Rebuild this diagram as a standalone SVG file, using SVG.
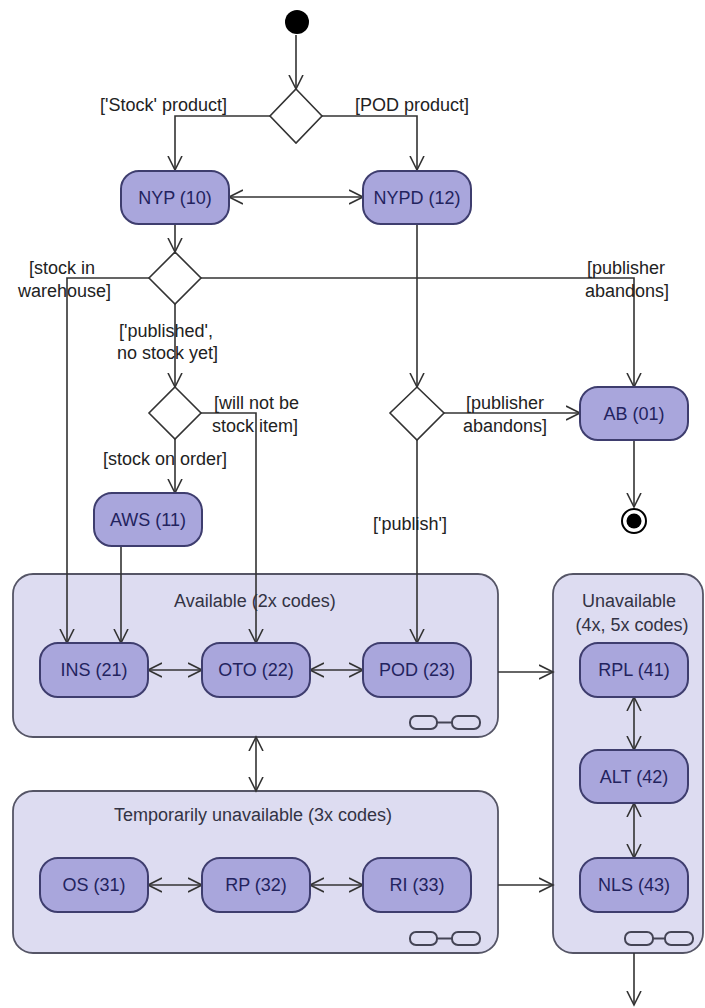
<svg xmlns="http://www.w3.org/2000/svg" width="705" height="1008" viewBox="0 0 705 1008">
<style>
  .node rect { fill:#a9a6dc; stroke:#3e3d6e; stroke-width:2; }
  .node text { font-family:"Liberation Sans", Arial, sans-serif; font-size:18px; fill:#23235e; text-anchor:middle; }
  .cont rect.box { fill:#dddcf1; stroke:#555566; stroke-width:1.8; }
  .cont text { font-family:"Liberation Sans", Arial, sans-serif; font-size:18px; fill:#333344; text-anchor:middle; }
  .icon { fill:none; stroke:#444455; stroke-width:2; }
  .dia { fill:#ffffff; stroke:#333333; stroke-width:1.6; }
  .edge { fill:none; stroke:#333333; stroke-width:1.6; }
  .lbl { font-family:"Liberation Sans", Arial, sans-serif; font-size:18px; fill:#222222; }
</style>
<defs>
  <marker id="ah" markerUnits="userSpaceOnUse" markerWidth="16" markerHeight="16" viewBox="0 0 16 16" refX="14" refY="8" orient="auto-start-reverse">
    <path d="M0,1 L14,8 L0,15" fill="none" stroke="#333333" stroke-width="1.6"/>
  </marker>
</defs>

<!-- containers -->
<g id="available" class="cont">
  <rect class="box" x="13" y="574" width="485" height="163" rx="20"/>
  <text x="255" y="607">Available (2x codes)</text>
  <rect class="icon" x="410" y="716" width="27" height="13" rx="6"/>
  <line class="icon" x1="437" y1="722.5" x2="452" y2="722.5"/>
  <rect class="icon" x="452" y="716" width="28" height="13" rx="6"/>
</g>
<g id="temporarily-unavailable" class="cont">
  <rect class="box" x="13" y="791" width="485" height="162" rx="20"/>
  <text x="253" y="821">Temporarily unavailable (3x codes)</text>
  <rect class="icon" x="410" y="932" width="27" height="13" rx="6"/>
  <line class="icon" x1="437" y1="938.5" x2="452" y2="938.5"/>
  <rect class="icon" x="452" y="932" width="28" height="13" rx="6"/>
</g>
<g id="unavailable" class="cont">
  <rect class="box" x="553" y="574" width="150" height="379" rx="20"/>
  <text x="629" y="607">Unavailable</text>
  <text x="632" y="631">(4x, 5x codes)</text>
  <rect class="icon" x="625" y="932" width="28" height="13" rx="6"/>
  <line class="icon" x1="653" y1="938.5" x2="665" y2="938.5"/>
  <rect class="icon" x="665" y="932" width="28" height="13" rx="6"/>
</g>

<!-- connectors -->
<g id="connectors">
  <path class="edge" d="M296,35 L296,89" marker-end="url(#ah)"/>
  <path class="edge" d="M270,116 L175,116 L175,170" marker-end="url(#ah)"/>
  <path class="edge" d="M322,116 L417,116 L417,170" marker-end="url(#ah)"/>
  <path class="edge" d="M229,197 L363,197" marker-start="url(#ah)" marker-end="url(#ah)"/>
  <path class="edge" d="M175,224 L175,252" marker-end="url(#ah)"/>
  <path class="edge" d="M149,278 L67,278 L67,643" marker-end="url(#ah)"/>
  <path class="edge" d="M201,278 L634,278 L634,387" marker-end="url(#ah)"/>
  <path class="edge" d="M175,304 L175,387" marker-end="url(#ah)"/>
  <path class="edge" d="M201,413 L256,413 L256,643" marker-end="url(#ah)"/>
  <path class="edge" d="M175,439 L175,493" marker-end="url(#ah)"/>
  <path class="edge" d="M121,546 L121,643" marker-end="url(#ah)"/>
  <path class="edge" d="M417,224 L417,387" marker-end="url(#ah)"/>
  <path class="edge" d="M444,413 L580,413" marker-end="url(#ah)"/>
  <path class="edge" d="M417,440 L417,643" marker-end="url(#ah)"/>
  <path class="edge" d="M634,440 L634,507" marker-end="url(#ah)"/>
  <path class="edge" d="M148,670 L202,670" marker-start="url(#ah)" marker-end="url(#ah)"/>
  <path class="edge" d="M310,670 L363,670" marker-start="url(#ah)" marker-end="url(#ah)"/>
  <path class="edge" d="M498,672 L553,672" marker-end="url(#ah)"/>
  <path class="edge" d="M256,737 L256,791" marker-start="url(#ah)" marker-end="url(#ah)"/>
  <path class="edge" d="M148,885 L202,885" marker-start="url(#ah)" marker-end="url(#ah)"/>
  <path class="edge" d="M310,885 L363,885" marker-start="url(#ah)" marker-end="url(#ah)"/>
  <path class="edge" d="M498,885 L553,885" marker-end="url(#ah)"/>
  <path class="edge" d="M634,697 L634,750" marker-start="url(#ah)" marker-end="url(#ah)"/>
  <path class="edge" d="M634,803 L634,858" marker-start="url(#ah)" marker-end="url(#ah)"/>
  <path class="edge" d="M634,953 L634,1005" marker-end="url(#ah)"/>
</g>

<!-- guard labels -->
<g id="labels">
  <text class="lbl" x="100" y="111">['Stock' product]</text>
  <text class="lbl" x="355" y="111">[POD product]</text>
  <text class="lbl" x="29" y="274">[stock in</text>
  <text class="lbl" x="18" y="297">warehouse]</text>
  <text class="lbl" x="587" y="274">[publisher</text>
  <text class="lbl" x="585" y="297">abandons]</text>
  <text class="lbl" x="119" y="337">['published',</text>
  <text class="lbl" x="117" y="359">no stock yet]</text>
  <text class="lbl" x="214" y="409">[will not be</text>
  <text class="lbl" x="212" y="432">stock item]</text>
  <text class="lbl" x="466" y="409">[publisher</text>
  <text class="lbl" x="463" y="432">abandons]</text>
  <text class="lbl" x="103" y="465">[stock on order]</text>
  <text class="lbl" x="373" y="530">['publish']</text>
</g>

<!-- initial / final -->
<g id="start"><circle cx="297" cy="22" r="12" fill="#000"/></g>
<g id="end">
  <circle cx="634" cy="521" r="12" fill="#fff" stroke="#000" stroke-width="2"/>
  <circle cx="634" cy="521" r="7.5" fill="#000"/>
</g>

<!-- decisions -->
<g id="d1"><polygon class="dia" points="296,89 322,116 296,143 270,116"/></g>
<g id="d2"><polygon class="dia" points="175,252 201,278 175,304 149,278"/></g>
<g id="d3"><polygon class="dia" points="417,387 444,413 417,440 390,413"/></g>
<g id="d4"><polygon class="dia" points="175,387 201,413 175,439 149,413"/></g>

<!-- nodes -->
<g id="NYP" class="node"><rect x="121" y="171" width="108" height="53" rx="18"/><text x="175" y="204">NYP (10)</text></g>
<g id="NYPD" class="node"><rect x="363" y="171" width="108" height="53" rx="18"/><text x="417" y="204">NYPD (12)</text></g>
<g id="AB" class="node"><rect x="580" y="387" width="108" height="53" rx="18"/><text x="634" y="420">AB (01)</text></g>
<g id="AWS" class="node"><rect x="94" y="493" width="108" height="53" rx="18"/><text x="148" y="526">AWS (11)</text></g>
<g id="INS" class="node"><rect x="40" y="643" width="108" height="54" rx="18"/><text x="94" y="676">INS (21)</text></g>
<g id="OTO" class="node"><rect x="202" y="643" width="108" height="54" rx="18"/><text x="256" y="676">OTO (22)</text></g>
<g id="POD" class="node"><rect x="363" y="643" width="108" height="54" rx="18"/><text x="417" y="676">POD (23)</text></g>
<g id="RPL" class="node"><rect x="580" y="643" width="108" height="54" rx="18"/><text x="634" y="676">RPL (41)</text></g>
<g id="ALT" class="node"><rect x="580" y="750" width="108" height="53" rx="18"/><text x="634" y="783">ALT (42)</text></g>
<g id="NLS" class="node"><rect x="580" y="858" width="108" height="54" rx="18"/><text x="634" y="891">NLS (43)</text></g>
<g id="OS" class="node"><rect x="40" y="858" width="108" height="54" rx="18"/><text x="94" y="891">OS (31)</text></g>
<g id="RP" class="node"><rect x="202" y="858" width="108" height="54" rx="18"/><text x="256" y="891">RP (32)</text></g>
<g id="RI" class="node"><rect x="363" y="858" width="108" height="54" rx="18"/><text x="417" y="891">RI (33)</text></g>
</svg>
